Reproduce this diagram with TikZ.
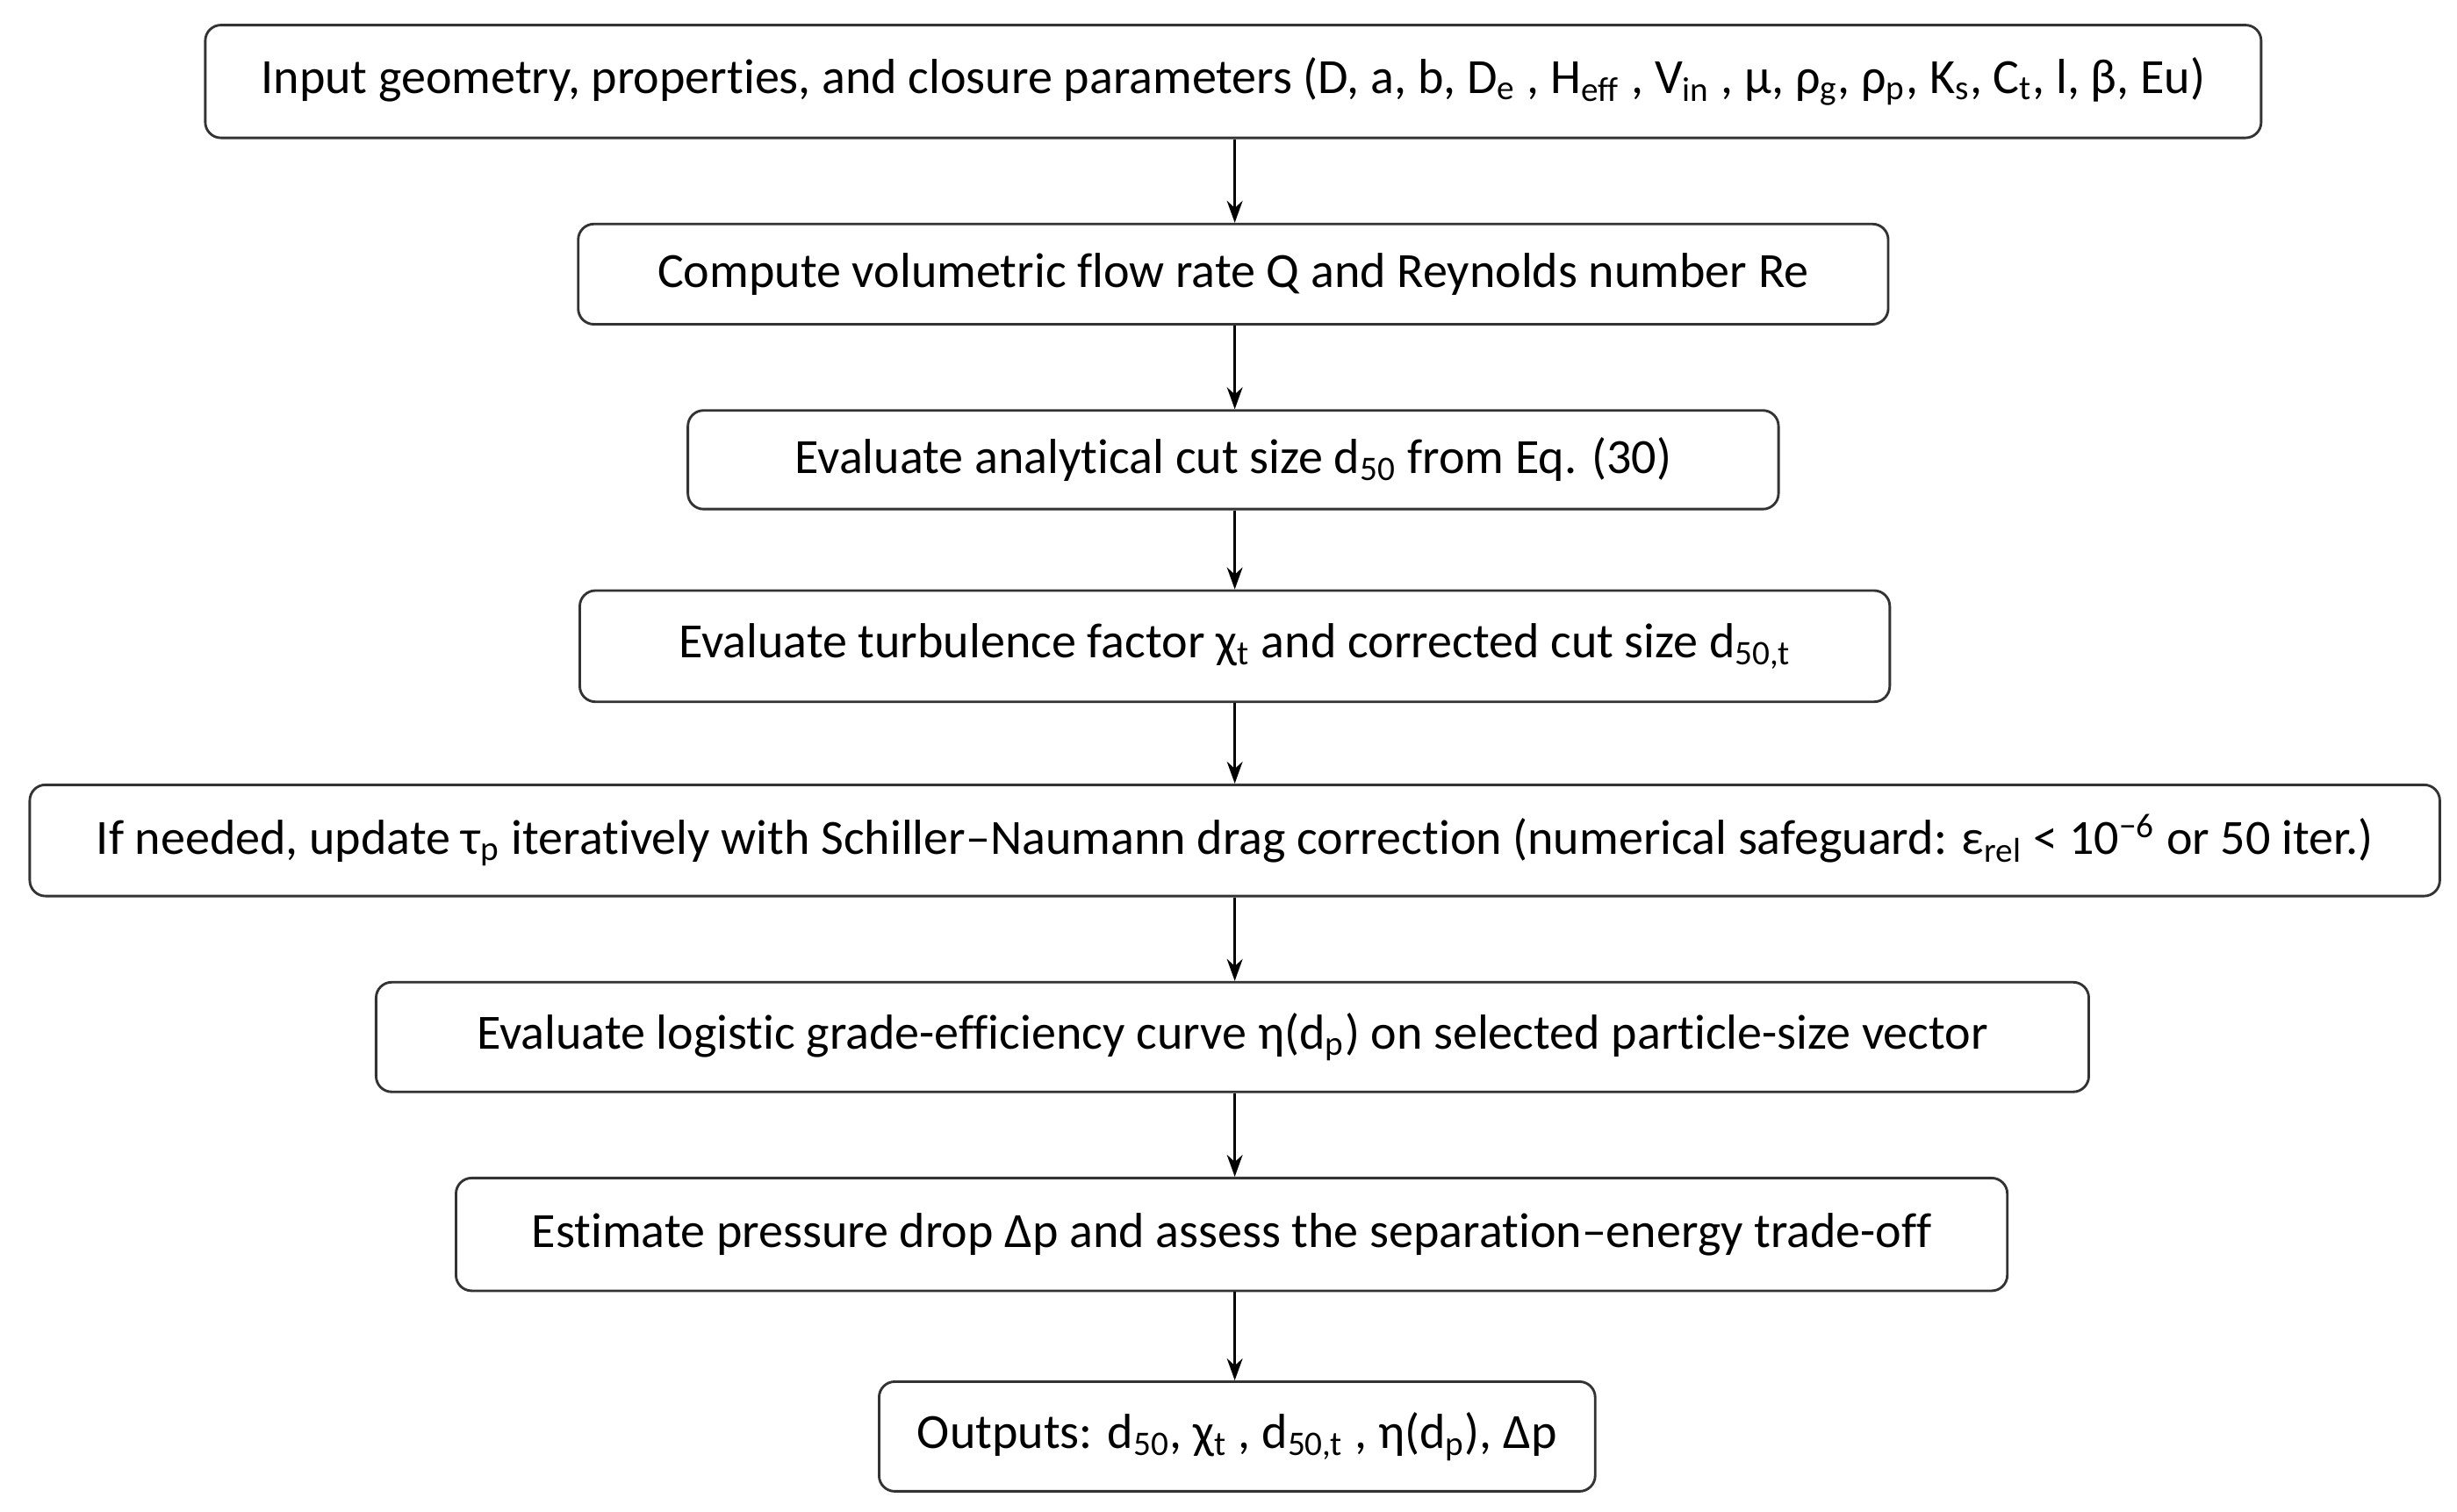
\documentclass[tikz,border=0pt]{standalone}
\usepackage{fontspec}
\setmainfont[Ligatures=NoCommon]{Carlito}
\usetikzlibrary{arrows.meta}
\newcommand{\lo}[1]{\textsubscript{#1}}
\begin{document}
\begin{tikzpicture}[x=0.5pt,y=-0.5pt,
  box/.style={draw=black!80,line width=0.8pt,rounded corners=5pt,inner sep=0pt,font=\fontsize{15.7}{18}\selectfont},
  arr/.style={-{Stealth[length=7pt,width=5pt]},line width=0.8pt}]
\useasboundingbox (0,0) rectangle (1568,965);
\newcommand{\bx}[6]{\node[box,minimum width=(#4-#2)*0.5pt,minimum height=(#5-#3)*0.5pt] (#1) at ({(#2+#4)/2},{(#3+#5)/2}) {#6};}
\bx{b1}{131}{16}{1443}{88}{Input geometry, properties, and closure parameters (D, a, b, D\lo{e} , H\lo{eff} , V\lo{in} , μ, ρ\lo{g}, ρ\lo{p}, K\lo{s}, C\lo{t}, l, β, Eu)}
\bx{b2}{369}{143}{1205}{207}{Compute volumetric flow rate Q and Reynolds number Re}
\bx{b3}{439}{262}{1135}{325}{Evaluate analytical cut size d\lo{50} from Eq. (30)}
\bx{b4}{370}{377}{1206}{448}{Evaluate turbulence factor χ\lo{t} and corrected cut size d\lo{50,t}}
\bx{b5}{19}{501}{1557}{572}{If needed, update τ\lo{p} iteratively with Schiller–Naumann drag correction (numerical safeguard: ε\lo{rel} < 10\textsuperscript{−6} or 50 iter.)}
\bx{b6}{240}{627}{1333}{697}{Evaluate logistic grade-efficiency curve η(d\lo{p}) on selected particle-size vector}
\bx{b7}{291}{752}{1281}{824}{Estimate pressure drop Δp and assess the separation–energy trade-off}
\bx{b8}{561}{882}{1018}{952}{Outputs: d\lo{50}, χ\lo{t} , d\lo{50,t} , η(d\lo{p}), Δp}
\foreach \a/\b in {b1/b2,b2/b3,b3/b4,b4/b5,b5/b6,b6/b7,b7/b8}
  \draw[arr] (\a.south -| 788,0) -- (\b.north -| 788,0);
\end{tikzpicture}
\end{document}
